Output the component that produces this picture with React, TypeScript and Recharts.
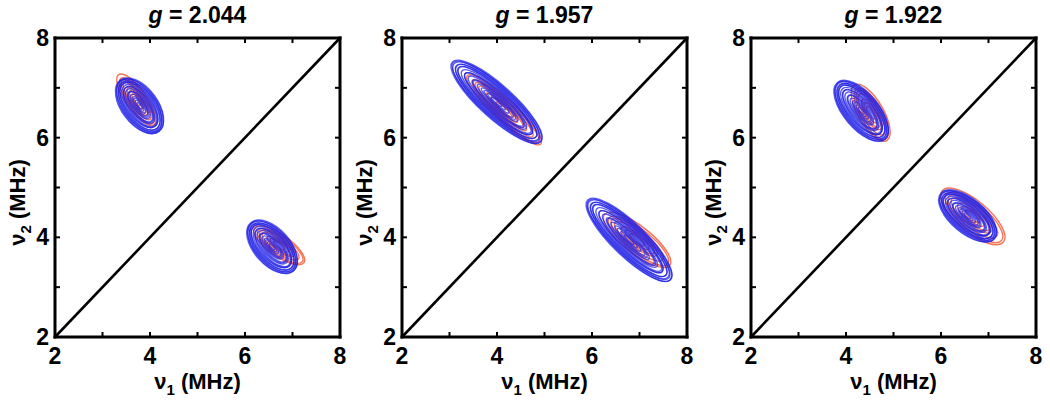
import React from 'react';
import { ScatterChart, Scatter, XAxis, YAxis, ReferenceLine } from 'recharts';

// ---------- data ----------
const gValues = ['2.044', '1.957', '1.922'];
const axisTicks = [2, 3, 4, 5, 6, 7, 8];
const labeledTicks = [2, 4, 6, 8];
const diagonal = [{ x: 2, y: 2 }, { x: 8, y: 8 }];

// contour clusters: centre (x, y in MHz), semi-axes a, b (MHz), tilt (deg)
const blueContours1 = [
  { x: 3.78, y: 6.64, a: 0.66, b: 0.37, angle: 53 },
  { x: 6.57, y: 3.81, a: 0.66, b: 0.37, angle: 48 },
];
const redContours1 = [
  { x: 3.71, y: 6.76, a: 0.63, b: 0.21, angle: 55 },
  { x: 6.72, y: 3.84, a: 0.62, b: 0.22, angle: 35 },
];
const blueContours2 = [
  { x: 3.99, y: 6.72, a: 1.22, b: 0.34, angle: 42 },
  { x: 6.78, y: 3.95, a: 1.18, b: 0.34, angle: 44 },
];
const redContours2 = [
  { x: 4.15, y: 6.56, a: 1.03, b: 0.22, angle: 43 },
  { x: 6.95, y: 3.95, a: 0.85, b: 0.28, angle: 38 },
];
const blueContours3 = [
  { x: 4.32, y: 6.54, a: 0.76, b: 0.36, angle: 50 },
  { x: 6.56, y: 4.43, a: 0.72, b: 0.35, angle: 40 },
];
const redContours3 = [
  { x: 4.52, y: 6.5, a: 0.66, b: 0.26, angle: 60 },
  { x: 6.67, y: 4.42, a: 0.82, b: 0.32, angle: 40 },
];

// contour levels: [scale of a, scale of b, shift along major axis (fraction of a)]
const blueLevels = [
  [1, 1, 0], [0.98, 0.95, 0.02], [0.96, 0.9, -0.02], [0.93, 0.86, 0.03],
  [0.9, 0.81, -0.01], [0.87, 0.76, 0.02], [0.83, 0.71, -0.03], [0.79, 0.66, 0.01],
  [0.74, 0.6, 0.03], [0.69, 0.54, -0.02], [0.63, 0.48, 0], [0.57, 0.42, 0.03],
  [0.5, 0.36, -0.02], [0.43, 0.3, 0], [0.36, 0.24, 0.02], [0.28, 0.18, 0],
  [0.2, 0.12, 0], [0.12, 0.07, 0],
];
const redLevels = [
  [1, 1, 0], [0.9, 0.85, 0.04], [0.78, 0.7, 0], [0.64, 0.56, -0.04],
  [0.5, 0.43, 0.02], [0.36, 0.31, 0], [0.22, 0.19, 0],
];

const panels = [
  { g: gValues[0], blue: blueContours1, red: redContours1 },
  { g: gValues[1], blue: blueContours2, red: redContours2 },
  { g: gValues[2], blue: blueContours3, red: redContours3 },
];

// ---------- layout / style ----------
const FONT = '"Liberation Sans", Arial, sans-serif';
const CHART_W = 349;
const CHART_H = 408;
const PLOT_W = 285;
const PLOT_H = 299;
const PX = (PLOT_W / 6 + PLOT_H / 6) / 2;
const PANEL_LEFTS = [0, 347, 696];
const BLUE = 'rgb(30,30,230)';
const RED = 'rgb(245,90,55)';

function makeContourShape(color: string, levels: number[][], opacity: number, width: number) {
  return (props: any) => {
    const { cx, cy, payload } = props;
    if (cx == null || cy == null || !payload) return <g />;
    const rx = payload.a * PX;
    const ry = payload.b * PX;
    return (
      <g transform={`translate(${cx},${cy}) rotate(${payload.angle})`}>
        {levels.map(([sa, sb, off], i) => (
          <ellipse
            key={i}
            cx={off * rx}
            cy={0}
            rx={rx * sa}
            ry={ry * sb}
            fill="none"
            stroke={color}
            strokeOpacity={opacity}
            strokeWidth={width}
          />
        ))}
      </g>
    );
  };
}

const blueShape = makeContourShape(BLUE, blueLevels, 0.72, 1.4);
const redShape = makeContourShape(RED, redLevels, 0.85, 1.4);

const BottomTick = (props: any) => {
  const { x, y, payload } = props;
  const v = payload.value;
  return (
    <g>
      <line x1={x} y1={y} x2={x} y2={y - 5} stroke="#000" strokeWidth={2} />
      {labeledTicks.includes(v) && (
        <text x={x} y={y + 27} textAnchor="middle" fontSize={23} fontWeight="bold" fill="#000" fontFamily={FONT}>
          {v}
        </text>
      )}
    </g>
  );
};
const TopTick = (props: any) => {
  const { x, y } = props;
  return <line x1={x} y1={y} x2={x} y2={y + 5} stroke="#000" strokeWidth={2} />;
};
const LeftTick = (props: any) => {
  const { x, y, payload } = props;
  const v = payload.value;
  return (
    <g>
      <line x1={x} y1={y} x2={x + 5} y2={y} stroke="#000" strokeWidth={2} />
      {labeledTicks.includes(v) && (
        <text x={x - 6} y={y + 8} textAnchor="end" fontSize={23} fontWeight="bold" fill="#000" fontFamily={FONT}>
          {v}
        </text>
      )}
    </g>
  );
};
const RightTick = (props: any) => {
  const { x, y } = props;
  return <line x1={x} y1={y} x2={x - 5} y2={y} stroke="#000" strokeWidth={2} />;
};

const titleLabel = (g: string) => (props: any) => {
  const vb = props.viewBox || {};
  return (
    <text x={vb.x + vb.width / 2} y={23} textAnchor="middle" fontSize={23} fontWeight="bold" fill="#000" fontFamily={FONT}>
      <tspan fontStyle="italic">g</tspan>
      <tspan>{' = ' + g}</tspan>
    </text>
  );
};
const xLabel = (props: any) => {
  const vb = props.viewBox || {};
  return (
    <text x={vb.x + vb.width / 2} y={vb.y + 52} textAnchor="middle" fontSize={22} fontWeight="bold" fill="#000" fontFamily={FONT}>
      <tspan>ν</tspan>
      <tspan dy={6} fontSize={15}>1</tspan>
      <tspan dy={-6}> (MHz)</tspan>
    </text>
  );
};
const yLabel = (props: any) => {
  const vb = props.viewBox || {};
  const x = vb.x + 25;
  const y = vb.y + vb.height / 2 + 15;
  return (
    <text x={x} y={y} transform={`rotate(-90, ${x}, ${y})`} textAnchor="middle" fontSize={22} fontWeight="bold" fill="#000" fontFamily={FONT}>
      <tspan>ν</tspan>
      <tspan dy={6} fontSize={15}>2</tspan>
      <tspan dy={-6}> (MHz)</tspan>
    </text>
  );
};

const axisLineStyle = { stroke: '#000', strokeWidth: 3, strokeLinecap: 'square' as const };

function Panel({ g, blue, red }: { g: string; blue: any[]; red: any[] }) {
  return (
    <ScatterChart width={CHART_W} height={CHART_H} margin={{ top: 37, right: 8, bottom: 0, left: 0 }}>
      <XAxis
        type="number"
        dataKey="x"
        domain={[2, 8]}
        ticks={axisTicks}
        interval={0}
        tickSize={0}
        tickMargin={0}
        tickLine={false}
        axisLine={axisLineStyle}
        tick={<BottomTick />}
        height={71}
        allowDataOverflow
        label={xLabel}
      />
      <XAxis
        xAxisId="top"
        orientation="top"
        type="number"
        dataKey="x"
        domain={[2, 8]}
        ticks={axisTicks}
        interval={0}
        tickSize={0}
        tickMargin={0}
        tickLine={false}
        axisLine={axisLineStyle}
        tick={<TopTick />}
        height={1}
        allowDataOverflow
        label={titleLabel(g)}
      />
      <YAxis
        type="number"
        dataKey="y"
        domain={[2, 8]}
        ticks={axisTicks}
        interval={0}
        tickSize={0}
        tickMargin={0}
        tickLine={false}
        axisLine={axisLineStyle}
        tick={<LeftTick />}
        width={55}
        allowDataOverflow
        label={yLabel}
      />
      <YAxis
        yAxisId="right"
        orientation="right"
        type="number"
        dataKey="y"
        domain={[2, 8]}
        ticks={axisTicks}
        interval={0}
        tickSize={0}
        tickMargin={0}
        tickLine={false}
        axisLine={axisLineStyle}
        tick={<RightTick />}
        width={1}
        allowDataOverflow
      />
      <ReferenceLine segment={diagonal} stroke="#000" strokeWidth={2.6} ifOverflow="visible" />
      <Scatter data={red} shape={redShape} isAnimationActive={false} />
      <Scatter data={blue} shape={blueShape} isAnimationActive={false} />
    </ScatterChart>
  );
}

export default function App() {
  return (
    <div style={{ position: 'absolute', left: 0, top: 0, width: 1050, height: 408, background: '#fff', fontFamily: FONT }}>
      {panels.map((p, i) => (
        <div key={i} style={{ position: 'absolute', left: PANEL_LEFTS[i], top: 0 }}>
          <Panel g={p.g} blue={p.blue} red={p.red} />
        </div>
      ))}
    </div>
  );
}
